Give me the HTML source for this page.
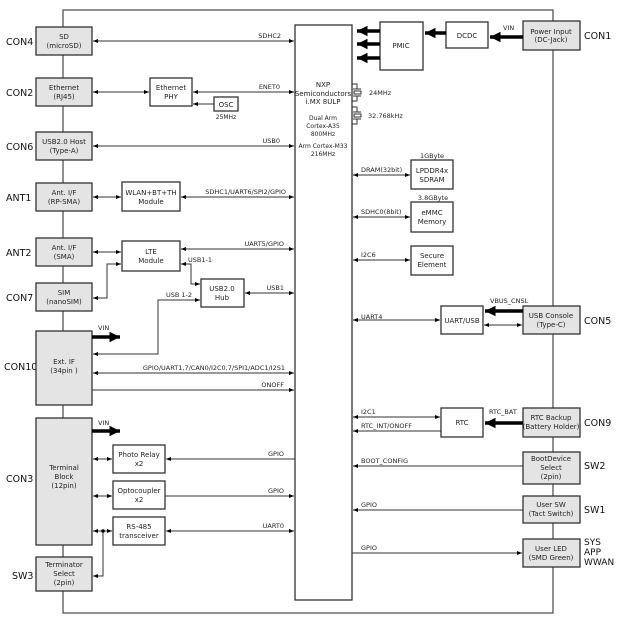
<!DOCTYPE html>
<html><head><meta charset="utf-8"><style>
html,body{margin:0;padding:0;background:#fff;}
svg{display:block;font-family:"DejaVu Sans","Liberation Sans",sans-serif;}
.b{fill:#fff;stroke:#333;stroke-width:1.3}
.g{fill:#e4e4e4;stroke:#333;stroke-width:1.3}
.l{stroke:#333;stroke-width:1;fill:none}
.t{stroke:#000;stroke-width:3.5;fill:none}
.s{font-size:6.5px;fill:#222}
.m{font-size:7px;fill:#222}
.c{font-size:9.5px;fill:#111}
</style></head><body>
<svg width="618" height="626" viewBox="0 0 618 626" xmlns="http://www.w3.org/2000/svg">
<defs>
<marker id="a" viewBox="0 0 10 10" refX="10" refY="5" markerWidth="5" markerHeight="5" orient="auto-start-reverse"><path d="M0,1 L10,5 L0,9 z" fill="#000"/></marker>
<marker id="T" viewBox="0 0 10 10" refX="10" refY="5" markerWidth="3" markerHeight="3" orient="auto-start-reverse"><path d="M0,0 L10,5 L0,10 z" fill="#000"/></marker>
</defs>
<rect x="63" y="10" width="490" height="603" fill="none" stroke="#555" stroke-width="1.3"/>
<rect class="b" x="295" y="25" width="57" height="575"/>
<g class="m" text-anchor="middle">
<text x="323" y="87">NXP</text><text x="323" y="96">Semiconductors</text><text x="323" y="104">i.MX 8ULP</text>
<text x="323" y="120" font-size="6">Dual Arm</text><text x="323" y="128" font-size="6">Cortex-A35</text><text x="323" y="136" font-size="6">800MHz</text>
<text x="323" y="148" font-size="6">Arm Cortex-M33</text><text x="323" y="156" font-size="6">216MHz</text>
</g>
<g class="l"><path d="M352,84 H357 V89 M352,101 H357 V96 M353,89 H361 M353,96 H361"/><rect x="354" y="91" width="7" height="3"/>
<path d="M352,107 H357 V112 M352,124 H357 V119 M353,112 H361 M353,119 H361"/><rect x="354" y="114" width="7" height="3"/></g>
<text class="s" x="369" y="95">24MHz</text><text class="s" x="368" y="118">32.768kHz</text>

<g class="c"><text x="6" y="45">CON4</text><text x="6" y="96">CON2</text><text x="6" y="150">CON6</text><text x="6" y="201">ANT1</text><text x="6" y="256">ANT2</text><text x="6" y="301">CON7</text><text x="4" y="370">CON10</text><text x="6" y="482">CON3</text><text x="12" y="579">SW3</text></g>
<rect class="g" x="36" y="27" width="56" height="28"/>
<rect class="g" x="36" y="78" width="56" height="28"/>
<rect class="g" x="36" y="132" width="56" height="28"/>
<rect class="g" x="36" y="183" width="56" height="28"/>
<rect class="g" x="36" y="238" width="56" height="28"/>
<rect class="g" x="36" y="283" width="56" height="28"/>
<rect class="g" x="36" y="331" width="56" height="74"/>
<rect class="g" x="36" y="418" width="56" height="127"/>
<rect class="g" x="36" y="557" width="56" height="34"/>
<g class="m" text-anchor="middle">
<text x="64" y="39">SD</text><text x="64" y="48">(microSD)</text>
<text x="64" y="90">Ethernet</text><text x="64" y="99">(RJ45)</text>
<text x="64" y="144">USB2.0 Host</text><text x="64" y="153">(Type-A)</text>
<text x="64" y="195">Ant. I/F</text><text x="64" y="204">(RP-SMA)</text>
<text x="64" y="250">Ant. I/F</text><text x="64" y="259">(SMA)</text>
<text x="64" y="295">SIM</text><text x="64" y="304">(nanoSIM)</text>
<text x="64" y="364">Ext. IF</text><text x="64" y="373">(34pin )</text>
<text x="64" y="470">Terminal</text><text x="64" y="479">Block</text><text x="64" y="488">(12pin)</text>
<text x="64" y="567">Terminator</text><text x="64" y="576">Select</text><text x="64" y="585">(2pin)</text>
</g>
<rect class="b" x="150" y="78" width="42" height="28"/>
<rect class="b" x="214" y="97" width="24" height="14"/>
<rect class="b" x="122" y="182" width="58" height="29"/>
<rect class="b" x="122" y="241" width="58" height="30"/>
<rect class="b" x="201" y="279" width="43" height="28"/>
<rect class="b" x="113" y="445" width="52" height="28"/>
<rect class="b" x="113" y="481" width="52" height="28"/>
<rect class="b" x="113" y="517" width="52" height="28"/>
<g class="m" text-anchor="middle">
<text x="171" y="90">Ethernet</text><text x="171" y="99">PHY</text>
<text x="226" y="107">OSC</text><text x="226" y="119" font-size="6">25MHz</text>
<text x="151" y="195">WLAN+BT+TH</text><text x="151" y="204">Module</text>
<text x="151" y="254">LTE</text><text x="151" y="263">Module</text>
<text x="222" y="291">USB2.0</text><text x="222" y="300">Hub</text>
<text x="139" y="457">Photo Relay</text><text x="139" y="466">x2</text>
<text x="139" y="493">Optocoupler</text><text x="139" y="502">x2</text>
<text x="139" y="529">RS-485</text><text x="139" y="538">transceiver</text>
</g>
<g class="l">
<line x1="93" y1="41" x2="294" y2="41" marker-start="url(#a)" marker-end="url(#a)"/>
<line x1="93" y1="92" x2="149" y2="92" marker-start="url(#a)" marker-end="url(#a)"/>
<line x1="193" y1="92" x2="294" y2="92" marker-start="url(#a)" marker-end="url(#a)"/>
<line x1="214" y1="104" x2="193" y2="104" marker-end="url(#a)"/>
<line x1="93" y1="146" x2="294" y2="146" marker-start="url(#a)" marker-end="url(#a)"/>
<line x1="93" y1="197" x2="121" y2="197" marker-start="url(#a)" marker-end="url(#a)"/>
<line x1="181" y1="197" x2="294" y2="197" marker-start="url(#a)" marker-end="url(#a)"/>
<line x1="93" y1="252" x2="121" y2="252" marker-start="url(#a)" marker-end="url(#a)"/>
<line x1="181" y1="249" x2="294" y2="249" marker-start="url(#a)" marker-end="url(#a)"/>
<path d="M93,298 H107 V264 H121" marker-start="url(#a)" marker-end="url(#a)"/>
<path d="M181,264 H191 V284 H200" marker-start="url(#a)" marker-end="url(#a)"/>
<line x1="245" y1="293" x2="294" y2="293" marker-start="url(#a)" marker-end="url(#a)"/>
<path d="M93,354 H158 V300 H200" marker-start="url(#a)" marker-end="url(#a)"/>
<line x1="93" y1="373" x2="294" y2="373" marker-start="url(#a)" marker-end="url(#a)"/>
<line x1="92" y1="390" x2="294" y2="390" marker-end="url(#a)"/>
<line x1="93" y1="459" x2="112" y2="459" marker-start="url(#a)" marker-end="url(#a)"/>
<line x1="295" y1="459" x2="166" y2="459" marker-end="url(#a)"/>
<line x1="93" y1="496" x2="112" y2="496" marker-start="url(#a)" marker-end="url(#a)"/>
<line x1="165" y1="496" x2="294" y2="496" marker-end="url(#a)"/>
<line x1="93" y1="531" x2="112" y2="531" marker-start="url(#a)" marker-end="url(#a)"/>
<line x1="166" y1="531" x2="294" y2="531" marker-start="url(#a)" marker-end="url(#a)"/>
<path d="M103,531 V576 H93" marker-end="url(#a)"/>
</g>
<circle cx="103" cy="531" r="1.8" fill="#000"/>
<g class="t"><line x1="92" y1="337" x2="120" y2="337" marker-end="url(#T)"/><line x1="92" y1="431" x2="120" y2="431" marker-end="url(#T)"/></g>
<g class="s">
<text x="281" y="38" text-anchor="end">SDHC2</text>
<text x="280" y="89" text-anchor="end">ENET0</text>
<text x="280" y="143" text-anchor="end">USB0</text>
<text x="286" y="194" text-anchor="end">SDHC1/UART6/SPI2/GPIO</text>
<text x="284" y="246" text-anchor="end">UART5/GPIO</text>
<text x="188" y="262">USB1-1</text>
<text x="284" y="290" text-anchor="end">USB1</text>
<text x="166" y="297">USB 1-2</text>
<text x="98" y="330">VIN</text>
<text x="285" y="370" text-anchor="end">GPIO/UART1,7/CAN0/I2C0,7/SPI1/ADC1/I2S1</text>
<text x="284" y="387" text-anchor="end">ONOFF</text>
<text x="98" y="425">VIN</text>
<text x="284" y="456" text-anchor="end">GPIO</text>
<text x="284" y="493" text-anchor="end">GPIO</text>
<text x="284" y="528" text-anchor="end">UART0</text>
</g>

<rect class="b" x="380" y="22" width="43" height="48"/>
<rect class="b" x="446" y="22" width="42" height="26"/>
<rect class="g" x="523" y="21" width="57" height="29"/>
<rect class="b" x="411" y="160" width="42" height="29"/>
<rect class="b" x="411" y="202" width="42" height="30"/>
<rect class="b" x="411" y="246" width="42" height="29"/>
<rect class="b" x="441" y="306" width="42" height="28"/>
<rect class="g" x="523" y="306" width="57" height="28"/>
<rect class="b" x="441" y="408" width="42" height="29"/>
<rect class="g" x="523" y="408" width="57" height="29"/>
<rect class="g" x="523" y="452" width="57" height="32"/>
<rect class="g" x="523" y="496" width="57" height="27"/>
<rect class="g" x="523" y="539" width="57" height="28"/>
<g class="m" text-anchor="middle">
<text x="401" y="48">PMIC</text>
<text x="467" y="38">DCDC</text>
<text x="551" y="34">Power Input</text><text x="551" y="42">(DC-Jack)</text>
<text x="432" y="173">LPDDR4x</text><text x="432" y="182">SDRAM</text>
<text x="432" y="215">eMMC</text><text x="432" y="224">Memory</text>
<text x="432" y="258">Secure</text><text x="432" y="267">Element</text>
<text x="462" y="323">UART/USB</text>
<text x="551" y="318">USB Console</text><text x="551" y="327">(Type-C)</text>
<text x="462" y="425">RTC</text>
<text x="551" y="420">RTC Backup</text><text x="551" y="429">(Battery Holder)</text>
<text x="551" y="461">BootDevice</text><text x="551" y="470">Select</text><text x="551" y="479">(2pin)</text>
<text x="551" y="507">User SW</text><text x="551" y="516">(Tact Switch)</text>
<text x="551" y="551">User LED</text><text x="551" y="560">(SMD Green)</text>
</g>
<g class="c"><text x="584" y="39">CON1</text><text x="584" y="324">CON5</text><text x="584" y="426">CON9</text><text x="584" y="469">SW2</text><text x="584" y="513">SW1</text><text x="584" y="545" font-size="9">SYS</text><text x="584" y="555" font-size="9">APP</text><text x="584" y="565" font-size="9">WWAN</text></g>
<g class="t">
<line x1="380" y1="31" x2="357" y2="31" marker-end="url(#T)"/>
<line x1="380" y1="44" x2="357" y2="44" marker-end="url(#T)"/>
<line x1="380" y1="58" x2="357" y2="58" marker-end="url(#T)"/>
<line x1="446" y1="33" x2="425" y2="33" marker-end="url(#T)"/>
<line x1="523" y1="37" x2="490" y2="37" marker-end="url(#T)"/>
<line x1="523" y1="311" x2="485" y2="311" marker-end="url(#T)"/>
<line x1="523" y1="423" x2="485" y2="423" marker-end="url(#T)"/>
</g>
<g class="l">
<line x1="353" y1="175" x2="410" y2="175" marker-start="url(#a)" marker-end="url(#a)"/>
<line x1="353" y1="217" x2="410" y2="217" marker-start="url(#a)" marker-end="url(#a)"/>
<line x1="353" y1="260" x2="410" y2="260" marker-start="url(#a)" marker-end="url(#a)"/>
<line x1="353" y1="320" x2="440" y2="320" marker-start="url(#a)" marker-end="url(#a)"/>
<line x1="484" y1="325" x2="522" y2="325" marker-start="url(#a)" marker-end="url(#a)"/>
<line x1="353" y1="417" x2="440" y2="417" marker-start="url(#a)" marker-end="url(#a)"/>
<line x1="441" y1="431" x2="353" y2="431" marker-end="url(#a)"/>
<line x1="523" y1="466" x2="353" y2="466" marker-end="url(#a)"/>
<line x1="523" y1="510" x2="353" y2="510" marker-end="url(#a)"/>
<line x1="352" y1="553" x2="522" y2="553" marker-end="url(#a)"/>
</g>
<g class="s">
<text x="432" y="158" text-anchor="middle">1GByte</text>
<text x="361" y="172">DRAM(32bit)</text>
<text x="433" y="200" text-anchor="middle">3.8GByte</text>
<text x="361" y="214">SDHC0(8bit)</text>
<text x="361" y="257">I2C6</text>
<text x="361" y="319">UART4</text>
<text x="490" y="303">VBUS_CNSL</text>
<text x="503" y="30">VIN</text>
<text x="361" y="414">I2C1</text>
<text x="361" y="428">RTC_INT/ONOFF</text>
<text x="489" y="414">RTC_BAT</text>
<text x="361" y="463">BOOT_CONFIG</text>
<text x="361" y="507">GPIO</text>
<text x="361" y="550">GPIO</text>
</g>
</svg>
</body></html>
